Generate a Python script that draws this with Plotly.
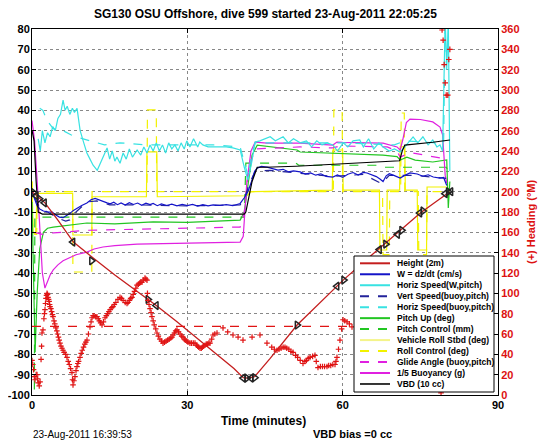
import plotly.graph_objects as go

FONT = "Liberation Sans"

# ---------------- data ----------------
depth_t = [0, 2.5, 5, 8, 12, 16, 20, 24, 28, 32, 36, 39, 40.8, 41.7, 43, 46, 51.2, 55, 60.1, 65, 70, 75, 78, 80.7]
depth_v = [0, -5.5, -14, -24.8, -33, -41, -48.5, -56, -64, -72.5, -81, -87, -91.5, -91.7, -91, -82, -65.6, -56, -43.5, -32.5, -21.5, -10.5, -5, 0]

gc_t = [0.3, 0.8, 1.4, 2.4, 7.9, 11.5, 22.4, 24.0, 40.8, 41.5, 42.3, 43.0, 51.2, 58.9, 60.2, 67.1, 68.3, 70.6, 71.4, 74.9, 75.5, 79.8, 80.4, 80.9]
gc_v = [-0.5, -2, -3.5, -5.5, -24.8, -34, -53, -56, -91.7, -91.7, -91.7, -91.5, -65.6, -46.5, -43.5, -28.5, -25.8, -21, -19, -10.5, -9.5, -1, 0, 0]
gc_dir = ["right", "left", "right", "left", "left", "right", "right", "left", "left", "right", "left", "right",
          "right", "left", "right", "left", "right", "left", "right", "left", "right", "left", "right", "left"]

w_t = [0, 0.5, 1.0, 1.5, 2.2, 3, 3.9, 4.6, 5.3, 6.0, 6.6, 7.3, 8.0, 8.7, 9.6, 10.6, 11.4, 12.2, 13.0, 13.8, 14.5,
       15.1, 15.8, 16.5, 17.2, 18.0, 18.8, 19.6, 20.4, 21.2, 22.0, 22.8, 23.4, 24.2, 25, 26, 27, 28, 29, 30, 31, 32,
       33, 34, 35, 36.3, 37.5, 38.8, 40.2, 41.0, 41.7, 42.4, 43.0, 43.5, 44.3, 45.4, 46.5, 47.5, 48.5, 49.5, 50.5,
       51.8, 52.8, 53.8, 54.8, 55.8, 56.8, 58.1, 59, 60, 61, 62, 63, 64, 64.7, 65.5, 66.5, 67.2, 67.8, 68.4, 69, 70,
       71.1, 72, 73, 74.4, 75.5, 76.5, 77.5, 78.8, 79.5, 80.1]
w_v = [0, -4, -7, -8.5, -9.5, -10, -10, -11.5, -12.5, -12.8, -12, -10.8, -9.2, -8, -6.8, -5.6, -4.0, -3.3, -4.2, -5.0,
       -5.5, -6.0, -5.2, -6.4, -5.5, -6.6, -5.4, -6.3, -5.6, -6.7, -5.7, -6.4, -5.8, -6.9, -6.0, -6.8, -6.1, -7.0,
       -6.2, -6.9, -6.3, -7.1, -6.4, -7.0, -6.5, -6.8, -6.4, -6.9, -5.8, -3, 0, 5, 10, 11.6, 12.4, 12.1, 11.2, 10.6,
       11.0, 9.8, 10.2, 9.7, 8.6, 9.2, 8.1, 8.8, 7.5, 7.2, 8.2, 7.0, 8.6, 9.4, 8.2, 9.5, 9.2, 8.3, 7.4, 6.2, 5.0, 7.8,
       8.8, 7.9, 6.7, 8.0, 9.2, 8.7, 7.6, 8.3, 7.2, 6.7, 7.0, 3]

hs_t = [1.2, 1.6, 2.0, 2.5, 3.0, 3.5, 4.0, 4.5, 5.0, 5.5, 6.0, 6.4, 6.8, 7.3, 7.8, 8.2, 8.7, 9.3, 10.0, 10.6, 11.2,
        11.8, 12.6, 13.2, 13.8, 14.5, 15.0, 15.5, 16.0, 16.4, 17.0, 17.6, 18.2, 18.8, 19.4, 20.3, 21.0, 21.6, 22.2,
        22.8, 23.4, 24.0, 24.6, 25.2, 25.8, 26.4, 27.0, 27.6, 28.2, 28.8, 29.4, 29.9, 30.5, 31.2, 32.0, 32.4, 33.0,
        34.0, 35.0, 36.3, 37.5, 38.8, 40.2, 41.0, 41.7, 42.4, 43.1, 44, 45, 46, 47, 48.5, 49.5, 50.5, 51.8, 53, 54,
        55, 56, 57, 58.1, 59, 60.1, 61, 62, 63.3, 64, 65, 66, 67, 67.8, 69, 70, 71.1, 72, 73.6, 74.5, 75.5, 76.5,
        77.4, 78.2, 78.8, 79.3, 79.8, 80.1, 80.4, 80.7]
hs_v = [26, 20, 30, 24, 29, 27, 32, 30, 36, 38, 45, 40, 42, 38, 41, 39, 41, 30, 24, 19, 16, 13, 10.5, 14, 18, 21.5,
        16, 20, 15, 17, 14, 19, 16, 21, 17, 20.5, 18, 22, 19, 23, 20, 24, 20, 23, 19, 24, 21, 23, 20, 24, 21, 25, 22,
        26, 22, 24.4, 23, 22, 22, 22, 22, 21.5, 20.5, 12, 5.7, 14, 24.4, 25, 26, 27, 25, 27, 24, 26, 24, 25, 22, 25,
        23, 24, 23, 20, 24, 22, 25, 25.4, 22, 26, 21, 24, 22, 20, 21, 19.5, 22, 26.9, 24, 27, 23, 25.4, 22, 23, 20,
        85, 60, 85, 10]

vs_t = [0.5, 1.5, 3, 5, 6.5, 7.3, 8.5, 10.6, 12.5, 15, 20, 30, 40.2, 41.2, 42, 43.1, 46, 52, 58, 64, 67.5, 69, 74, 80]
vs_v = [-3, -8, -10, -13, -14.5, -13.9, -10, -5.1, -4.5, -6.5, -6.5, -7, -6.5, -2, 4, 10, 10.5, 9, 7.5, 8.5, 4, 8, 8, 6.5]

hb_t = [1.5, 2.1, 2.9, 4.1, 6, 7.5, 9.3, 11.8, 14, 17, 22, 29.9, 35, 40.2, 41, 41.7, 42.4, 43.1, 50, 60, 70, 72, 78, 79.5, 79.8, 80.4]
hb_v = [41, 40, 35, 31, 30, 28, 26.4, 24.4, 23, 24, 23, 23, 23, 22, 14, 8, 18, 24, 24, 24, 23, 25, 24, 24, 85, 85]

pitch_t = [0, 0.3, 0.6, 1.0, 1.5, 2.2, 3, 4.1, 7.3, 10.6, 16, 23.4, 30, 36.3, 40.2, 41, 41.8, 42.5, 43.5, 46, 51.2, 51.8,
           58.1, 62, 67.8, 70.5, 71.1, 72.4, 74, 77.4, 80.1, 80.4, 80.7]
pitch_v = [-5, -45, -79, -50, -28, -20, -18, -17.4, -16.4, -15.4, -15.8, -14.9, -15.1, -14.4, -14, -10, 5, 18, 22.9, 22,
           20.5, 19.5, 19, 18.8, 18, 17.2, 15.6, 17, 15.5, 14.6, 15.6, -8, 5]

pc_t = [0, 0.45, 0.55, 41, 41.3, 51, 51.5, 67, 68, 80, 80.5]
pc_v = [-105, -105, -12.5, -12.5, 14, 14, 13, 13, 12, 12, 10]

roll_t = [0, 0.2, 0.7, 1.0, 7.85, 7.9, 11.55, 11.6, 22.1, 22.2, 24.1, 24.2, 41.5, 42.3, 58.0, 58.1, 60.0, 60.1, 67.1,
          67.2, 68.5, 68.6, 71.0, 71.1, 72.0, 72.1, 74.4, 74.5, 76.2, 76.3, 80.1]
roll_v = [5, -20, -21, -0.8, -0.8, -21.3, -21.3, -2.5, -2.5, 19.6, 19.6, -2.5, -2, 0, 0.8, 20.5, 20.5, 0.8, 0.8, -28.7,
          -28.7, 0.8, 0.8, 22, 22, 0.8, 0.8, -28.7, -28.7, 2.3, 2.3]

rc_t = [0, 0.2, 0.9, 1.0, 7.85, 7.9, 11.55, 11.6, 22.2, 22.3, 24.0, 24.1, 58.2, 58.3, 59.9, 60.0, 67.7, 67.8, 69.0,
        69.1, 71.2, 71.3, 71.9, 72.0, 74.6, 74.7, 76.2, 76.3, 80.1]
rc_v = [5, -21, -21, 0, 0, -39.5, -39.5, 0, 0, 40.2, 40.2, 0, 0, 40.2, 40.2, 0, 0, -31, -31, 0, 0, 38.7, 38.7, 0, 0,
        -31, -31, 0, 0]

ga_t = [0.5, 2, 4.1, 10.6, 20, 30, 36.3, 40.2, 41, 41.8, 43, 51.8, 58.1, 59.5, 68.6, 70.5, 71.1, 72, 73.6, 77.4, 80]
ga_v = [-20, -21, -20.3, -19, -18.5, -18, -17.4, -17.4, -10, 10, 21, 22, 21.5, 22.5, 22, 20, 17, 18, 19, 17, 16]

buoy_t = [0, 0.5, 1.0, 1.5, 2.0, 2.5, 3.0, 3.5, 4.1, 5, 6, 7.3, 8.5, 10.6, 12, 13.7, 16, 20.3, 25, 29.9, 36.3, 40.2,
          40.8, 41.5, 42.3, 43.1, 45.4, 51.8, 58.1, 58.9, 60, 67.8, 70.5, 71.1, 71.6, 72.3, 73, 75, 77.4, 78.8, 79.3,
          79.8, 80.1]
buoy_v = [35, 25, 5, -20, -40, -47.4, -44, -41, -38.5, -36, -34, -32.6, -31, -29.7, -28.2, -27.2, -26.5, -25.8, -25.5,
          -25.3, -24.8, -24.8, -22, 5, 20, 24.4, 23.9, 23.9, 22.9, 24.4, 24.2, 23.9, 22, 20.5, 25.4, 34, 35.7, 35.5,
          34.3, 31.8, 28, 8, 4.3]

vbd_t = [0, 0.4, 0.8, 1.2, 2, 41, 41.3, 42.5, 43.5, 45, 51, 58, 59.5, 60, 65, 70, 71, 71.5, 72, 77.4, 80.1, 80.7]
vbd_v = [30.3, 25, 5, -10, -11, -11, -10, 5, 12, 12, 12.5, 13.5, 13.7, 13.9, 14.3, 15, 15.2, 20, 22.9, 24.3, 25.4, 25.4]

head_t = [0.0, 0.15, 0.3, 0.45, 0.58, 0.8, 0.97, 1.1, 1.2, 1.4, 1.55, 1.75, 1.85, 1.93, 2.12, 2.3, 2.4, 2.51, 2.6,
          2.7, 2.8, 2.9, 3.0, 3.09, 3.2, 3.3, 3.4, 3.48, 3.65, 3.8, 3.95, 4.06, 4.25, 4.4, 4.6, 4.8, 4.95, 5.1, 5.25,
          5.41, 5.6, 5.8, 6.0, 6.2, 6.5, 6.76, 7.0, 7.2, 7.45, 7.72, 7.82, 7.92, 8.1, 8.3, 8.5, 8.69, 8.85, 9.0, 9.27,
          9.5, 9.7, 9.95, 10.2, 10.4, 10.62, 10.9, 11.2, 11.4, 11.59, 11.8, 12.0, 12.3, 12.55, 12.8, 13.0, 13.25,
          13.52, 13.8, 14.1, 14.35, 14.6, 14.85, 15.1, 15.4, 15.64, 15.9, 16.2, 16.6, 17.0, 17.3, 17.6, 18.0, 18.35,
          18.55, 18.8, 19.05, 19.31, 19.55, 19.8, 20.05, 20.28, 20.55, 20.8, 21.0, 21.24, 21.5, 21.82, 22.0, 22.21,
          22.3, 22.4, 22.6, 22.8, 23.0, 23.17, 23.4, 23.6, 23.9, 24.14, 24.4, 24.7, 25.0, 25.3, 25.6, 25.9, 26.2,
          26.5, 26.8, 27.04, 27.25, 27.5, 27.75, 28.0, 28.3, 28.6, 28.9, 29.16, 29.4, 29.6, 29.9, 30.13, 30.5, 30.8,
          31.15, 31.48, 31.75, 32.0, 32.2, 32.45, 32.7, 32.9, 33.15, 33.41, 33.65, 33.9, 34.15, 34.38, 34.7, 34.96,
          35.3, 35.73, 36.89, 37.8, 38.82, 39.8, 40.75, 42.5, 44.03, 45.38, 46.3, 46.8, 47.32, 47.7, 48.1, 48.5,
          48.86, 49.2, 49.6, 50.0, 50.41, 50.9, 51.3, 51.8, 52.34, 52.7, 53.0, 53.35, 53.69, 54.2, 54.65, 54.9,
          55.23, 55.7, 56.1, 56.5, 56.97, 57.3, 57.7, 58.1, 58.52, 58.7, 58.9, 59.2, 59.48, 59.8, 60.07, 60.4, 60.84,
          61.3, 61.8, 63, 65, 67, 70, 72, 75, 78, 79.0, 79.2, 79.4, 79.6, 79.8, 80.0, 80.3, 80.5, 80.7]
head_v = [34, 30, 25, 18, 15, 20, 20, 16, 12, 9, 13, 35, 48, 61, 64, 75, 80, 84, 90, 95, 98, 100, 99, 96, 94, 92, 89,
          87, 85, 82, 79, 77, 73, 70, 66, 63, 60, 57, 54, 51, 48, 46, 44, 42, 40, 37, 33, 30, 26, 22, 15, 10, 14, 18,
          24, 28, 31, 33, 37, 41, 44, 47, 50, 52, 54, 60, 67, 72, 76, 78, 78, 77, 77, 75, 73, 71, 69, 72, 76, 78, 80,
          82, 84, 86, 87, 89, 91, 94, 96, 95, 93, 91, 90, 91, 93, 95, 96, 99, 102, 105, 108, 109, 110, 111, 111, 113,
          115, 114, 113, 100, 93, 89, 85, 81, 77, 73, 69, 65, 61, 58, 55, 53, 51, 52, 53, 54, 55, 56, 57, 59, 61, 63,
          64, 62, 60, 58, 57, 55, 54, 53, 52, 51, 51, 51, 51, 49, 48, 47, 46, 46, 47, 48, 49, 50, 50, 51, 51, 55, 59,
          60, 61, 66, 62, 59, 57, 54, 57, 59, 51, 47, 45, 44, 45, 46, 47, 47, 46, 45, 43, 42, 39, 37, 34, 31, 33, 34,
          36, 37, 38, 39, 33, 27, 28, 28, 28, 28, 29, 29, 30, 30, 33, 37, 45, 54, 65, 74, 73, 72, 70, 67, 65, 62, 64,
          66, 63, 66, 62, 2, 359, 349, 325, 307, 295, 295, 330, 340]

head_goal_t = [0, 80.7]
head_goal_v = [67.5, 67.5]

x_ticks = [0, 30, 60, 90]
y_ticks = [-100, -90, -80, -70, -60, -50, -40, -30, -20, -10, 0, 10, 20, 30, 40, 50, 60, 70, 80]
y_tick_labels = ["-100", "-90", "-80", "-70", "-60", "-50", "-40", "-30", "-20", "-10", "0", "10", "20", "30",
                 "40", "50", "60", "70", "80"]

# ---------------- styling ----------------
C_DEPTH = "#c41e1e"
C_HEAD = "#e01414"
C_W = "#1414c8"
C_VS = "#23239a"
C_CYAN = "#38e2e2"
C_GREEN = "#22c622"
C_YEL = "#f2f200"
C_MAG = "#e020e0"
C_BLK = "#000000"

fig = go.Figure()

def add_line(t, v, color, dash="solid", width=1.2, yaxis="y"):
    fig.add_trace(go.Scatter(x=t, y=v, mode="lines", yaxis=yaxis, showlegend=False, hoverinfo="skip",
                             line=dict(color=color, dash=dash, width=width)))

add_line(rc_t, rc_v, C_YEL, "dash")
add_line(roll_t, roll_v, C_YEL)
add_line(pc_t, pc_v, C_GREEN, "dash")
add_line(pitch_t, pitch_v, C_GREEN)
add_line(ga_t, ga_v, C_MAG, "dash")
add_line(buoy_t, buoy_v, C_MAG)
add_line(hb_t, hb_v, C_CYAN, "dash")
add_line(hs_t, hs_v, C_CYAN)
add_line(vs_t, vs_v, C_VS, "dash")
add_line(w_t, w_v, C_W)
add_line(vbd_t, vbd_v, C_BLK)
add_line(depth_t, depth_v, C_DEPTH, width=1.3)

fig.add_trace(go.Scatter(x=gc_t, y=gc_v, mode="markers", showlegend=False, hoverinfo="skip",
                         marker=dict(symbol=["triangle-%s-open" % d for d in gc_dir], size=7,
                                     color="#222222", line=dict(width=1.5, color="#222222"))))

fig.add_trace(go.Scatter(x=head_goal_t, y=head_goal_v, mode="lines", yaxis="y2", showlegend=False,
                         hoverinfo="skip", line=dict(color=C_HEAD, dash="dash", width=1.2)))
fig.add_trace(go.Scatter(x=head_t, y=head_v, mode="markers", yaxis="y2", showlegend=False, hoverinfo="skip",
                         marker=dict(symbol="cross-thin", size=4, line=dict(width=1.2, color=C_HEAD),
                                     color=C_HEAD)))

# ---------------- manual legend ----------------
legend_items = [
    ("Height (2m)", C_DEPTH, "solid"),
    ("W = dz/dt (cm/s)", C_W, "solid"),
    ("Horiz Speed(W,pitch)", C_CYAN, "solid"),
    ("Vert Speed(buoy,pitch)", C_VS, "dash"),
    ("Horiz Speed(buoy,pitch)", C_CYAN, "dash"),
    ("Pitch Up (deg)", C_GREEN, "solid"),
    ("Pitch Control (mm)", C_GREEN, "dash"),
    ("Vehicle Roll Stbd (deg)", "#f4f48a", "solid"),
    ("Roll Control (deg)", C_YEL, "dash"),
    ("Glide Angle (buoy,pitch)", C_MAG, "dash"),
    ("1/5 Buoyancy (g)", C_MAG, "solid"),
    ("VBD (10 cc)", "#333333", "solid"),
]

# The page body has an 8px margin, so the figure is offset by 8px in the screenshot.
OFF = 8
FIG_W, FIG_H = 546 - OFF, 442 - OFF
L, R, T, B = 32, 498, 29, 395          # plot-area edges in screenshot pixels
W_, H_ = R - L, B - T

def px(xp):
    return (xp - L) / W_

def py(yp):
    return (B - yp) / H_

shapes = [dict(type="rect", xref="paper", yref="paper", x0=px(354), x1=px(494), y0=py(392), y1=py(256),
               fillcolor="white", line=dict(color="black", width=1), layer="above")]
annotations = []
for i, (name, col, dash) in enumerate(legend_items):
    yy = py(263.3 + i * 10.97)
    shapes.append(dict(type="line", xref="paper", yref="paper", x0=px(360), x1=px(390), y0=yy, y1=yy,
                       line=dict(color=col, width=2, dash=dash), layer="above"))
    annotations.append(dict(text=name, xref="paper", yref="paper", x=px(395), y=yy, xanchor="left",
                            yanchor="middle", showarrow=False,
                            font=dict(family=FONT, size=8.5, color="black", weight="bold")))

annotations += [
    dict(text="SG130 OSU Offshore, dive 599 started 23-Aug-2011 22:05:25", xref="paper", yref="paper",
         x=0.5, y=py(14), xanchor="center", yanchor="middle", showarrow=False,
         font=dict(family=FONT, size=12, color="black", weight="bold")),
    dict(text="Time (minutes)", xref="paper", yref="paper", x=px(263), y=py(421), xanchor="center",
         yanchor="middle", showarrow=False, font=dict(family=FONT, size=12, color="black", weight="bold")),
    dict(text="23-Aug-2011 16:39:53", xref="paper", yref="paper", x=px(31), y=py(434), xanchor="left",
         yanchor="middle", showarrow=False, font=dict(family=FONT, size=10, color="black")),
    dict(text="VBD bias =0 cc", xref="paper", yref="paper", x=px(311), y=py(434), xanchor="left",
         yanchor="middle", showarrow=False, font=dict(family=FONT, size=11, color="black", weight="bold")),
    dict(text="(+) Heading (°M)", xref="paper", yref="paper", x=px(531), y=py(222), xanchor="center",
         yanchor="middle", textangle=-90, showarrow=False,
         font=dict(family=FONT, size=11, color="#dd1111", weight="bold")),
]

fig.update_layout(
    width=FIG_W, height=FIG_H,
    margin=dict(l=L - OFF, r=FIG_W - (R - OFF), t=T - OFF, b=FIG_H - (B - OFF), autoexpand=False),
    paper_bgcolor="white", plot_bgcolor="white",
    showlegend=False,
    shapes=shapes, annotations=annotations,
    xaxis=dict(range=[0, 90], tickvals=x_ticks, showline=True, linecolor="black", linewidth=1, mirror="ticks",
               ticks="inside", ticklen=4, tickcolor="black", showgrid=True, gridcolor="#888888", griddash="dot",
               gridwidth=1, zeroline=False, automargin=False,
               tickfont=dict(family=FONT, size=11, color="black", weight="bold")),
    yaxis=dict(range=[-100, 80], tickvals=y_ticks, ticktext=y_tick_labels, showline=True, linecolor="black",
               linewidth=1, mirror=True, ticks="inside", ticklen=4, tickcolor="black", showgrid=True,
               gridcolor="#888888", griddash="dot", gridwidth=1, zeroline=False, automargin=False,
               ticklabelstandoff=-1,
               tickfont=dict(family=FONT, size=11, color="black", weight="bold")),
    yaxis2=dict(range=[0, 360], dtick=20, overlaying="y", side="right", showline=True, linecolor="black",
                ticks="inside", ticklen=4, tickcolor="black", showgrid=False, zeroline=False, automargin=False,
                tickfont=dict(family=FONT, size=11, color="#dd1111", weight="bold")),
)

fig.write_html("out.html")
